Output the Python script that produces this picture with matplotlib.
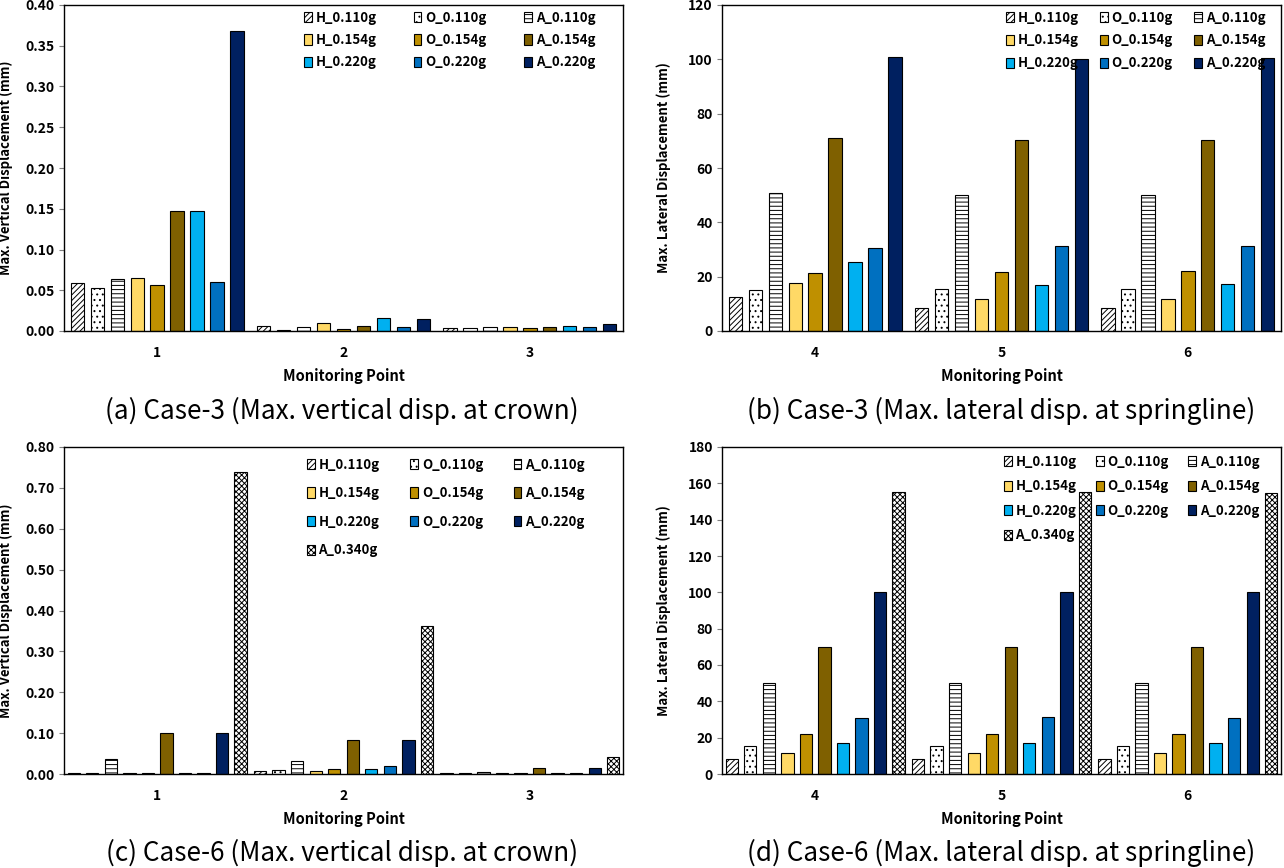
import matplotlib.pyplot as plt

plt.rcParams['font.family'] = ['Noto Sans CJK KR', 'DejaVu Sans']
plt.rcParams['hatch.linewidth'] = 0.7

series = ['H_0.110g', 'O_0.110g', 'A_0.110g',
          'H_0.154g', 'O_0.154g', 'A_0.154g',
          'H_0.220g', 'O_0.220g', 'A_0.220g', 'A_0.340g']
faces = ['white', 'white', 'white',
         '#FFD966', '#BF9000', '#7F6000',
         '#00B0F0', '#0070C0', '#002060', 'white']
hatches = ['//////', '...', '----', None, None, None, None, None, None, 'xxxxxx']

# (a) Case-3 vertical, monitoring points 1-3
c3_vert_pts = ['1', '2', '3']
c3_vert_p1 = [0.059, 0.053, 0.064, 0.065, 0.057, 0.147, 0.147, 0.060, 0.368]
c3_vert_p2 = [0.006, 0.001, 0.005, 0.010, 0.003, 0.006, 0.016, 0.005, 0.015]
c3_vert_p3 = [0.004, 0.004, 0.005, 0.005, 0.004, 0.005, 0.006, 0.005, 0.008]

# (b) Case-3 lateral, monitoring points 4-6
c3_lat_pts = ['4', '5', '6']
c3_lat_p4 = [12.6, 15.1, 50.7, 17.6, 21.3, 70.9, 25.4, 30.5, 101.0]
c3_lat_p5 = [8.4, 15.4, 50.0, 11.8, 21.7, 70.2, 16.9, 31.2, 100.0]
c3_lat_p6 = [8.4, 15.4, 50.0, 11.8, 22.1, 70.2, 17.3, 31.2, 100.4]

# (c) Case-6 vertical
c6_vert_pts = ['1', '2', '3']
c6_vert_p1 = [0.002, 0.002, 0.036, 0.002, 0.002, 0.100, 0.002, 0.002, 0.100, 0.740]
c6_vert_p2 = [0.008, 0.010, 0.032, 0.008, 0.012, 0.084, 0.013, 0.020, 0.084, 0.363]
c6_vert_p3 = [0.002, 0.002, 0.005, 0.002, 0.002, 0.015, 0.002, 0.002, 0.015, 0.042]

# (d) Case-6 lateral
c6_lat_pts = ['4', '5', '6']
c6_lat_p4 = [8.4, 15.6, 50.1, 11.6, 22.0, 69.9, 17.1, 30.8, 100.2, 155.2]
c6_lat_p5 = [8.4, 15.6, 50.0, 11.6, 22.0, 70.0, 17.1, 31.4, 100.2, 155.2]
c6_lat_p6 = [8.4, 15.6, 50.0, 11.6, 22.0, 70.0, 17.1, 30.8, 100.2, 154.7]

W, H = 1284, 868
fig = plt.figure(figsize=(W / 100, H / 100), dpi=100)


def make_axes(l, t, r, b):
    return fig.add_axes([l / W, 1 - b / H, (r - l) / W, (b - t) / H])


def panel(ax, pts, groups, ymax, ystep, fmt, ylabel, leg_anchor, colsp, labsp):
    n = len(groups[0])
    step = 0.107 if n == 9 else 0.0995
    width = 0.072 if n == 9 else 0.066
    handles = []
    for j in range(n):
        xs = [g + 0.5 + (j - (n - 1) / 2) * step for g in range(len(groups))]
        ys = [grp[j] for grp in groups]
        bc = ax.bar(xs, ys, width, color=faces[j], hatch=hatches[j],
                    edgecolor='black', linewidth=0.8, label=series[j], zorder=2)
        handles.append(bc)
    ax.set_xlim(0, len(groups))
    ax.set_ylim(0, ymax)
    ticks = [i * ystep for i in range(int(round(ymax / ystep)) + 1)]
    ax.set_yticks(ticks)
    ax.set_yticklabels([fmt.format(t) for t in ticks], fontweight='bold', fontsize=10)
    ax.set_xticks([g + 0.5 for g in range(len(groups))])
    ax.set_xticklabels(pts, fontweight='bold', fontsize=10)
    ax.tick_params(axis='x', length=0, pad=11)
    ax.tick_params(axis='y', length=3.5, color='#7f7f7f', pad=3)
    for sp in ax.spines.values():
        sp.set_linewidth(1.0)
    ax.set_xlabel('Monitoring Point', fontweight='bold', fontsize=10.5)
    ax.xaxis.set_label_coords(0.5, -0.112)
    ax.set_ylabel(ylabel, fontweight='bold', fontsize=9.5)
    ax.yaxis.set_label_coords(-0.091, 0.5)
    # column-wise fill: H, O, A columns
    order = [0, 3, 6, 9, 1, 4, 7, 2, 5, 8] if n == 10 else [0, 3, 6, 1, 4, 7, 2, 5, 8]
    ax.legend([handles[k] for k in order], [series[k] for k in order], ncol=3,
              loc='upper left', bbox_to_anchor=(leg_anchor[0] / W, 1 - leg_anchor[1] / H),
              bbox_transform=fig.transFigure, frameon=False, borderpad=0,
              handlelength=0.6, handleheight=0.8, handletextpad=0.3,
              columnspacing=colsp, labelspacing=labsp,
              prop={'weight': 'bold', 'size': 9.5})


ax_a = make_axes(64, 5, 623, 331)
panel(ax_a, c3_vert_pts, [c3_vert_p1, c3_vert_p2, c3_vert_p3], 0.40, 0.05, '{:.2f}',
      'Max. Vertical Displacement (mm)', (297, 4), 2.8, 0.64)

ax_b = make_axes(722, 5, 1281, 331)
panel(ax_b, c3_lat_pts, [c3_lat_p4, c3_lat_p5, c3_lat_p6], 120, 20, '{:.0f}',
      'Max. Lateral Displacement (mm)', (999, 4), 1.6, 0.67)

ax_c = make_axes(64, 447, 623, 774)
panel(ax_c, c6_vert_pts, [c6_vert_p1, c6_vert_p2, c6_vert_p3], 0.80, 0.10, '{:.2f}',
      'Max. Vertical Displacement (mm)', (300, 451), 2.3, 1.1)

ax_d = make_axes(722, 447, 1281, 774)
panel(ax_d, c6_lat_pts, [c6_lat_p4, c6_lat_p5, c6_lat_p6], 180, 20, '{:.0f}',
      'Max. Lateral Displacement (mm)', (997, 448), 1.45, 0.8)

caps = [('(a) Case-3 (Max. vertical disp. at crown)', 342, 411),
        ('(b) Case-3 (Max. lateral disp. at springline)', 1001, 411),
        ('(c) Case-6 (Max. vertical disp. at crown)', 342, 853),
        ('(d) Case-6 (Max. lateral disp. at springline)', 1001, 853)]
for txt, cx, cy in caps:
    fig.text(cx / W, 1 - cy / H, txt, ha='center', va='center', fontsize=18.8)

fig.savefig('out.png', dpi=100)
